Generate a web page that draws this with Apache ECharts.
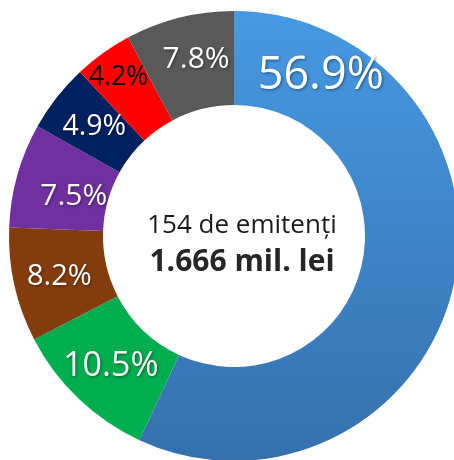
<!DOCTYPE html>
<html>
<head>
<meta charset="utf-8">
<script src="https://cdn.jsdelivr.net/npm/echarts@6/dist/echarts.min.js"></script>
<style>html,body{margin:0;padding:0;background:#fff;}#c{width:454px;height:460px;}</style>
</head>
<body>
<div id="c"></div>
<script>
var names = ['A', 'B', 'C', 'D', 'E', 'F', 'G'];
var values = [56.9, 10.5, 8.2, 7.5, 4.9, 4.2, 7.8];
var colors = ['#4597DF', '#00AE4F', '#843C0C', '#7030A0', '#002060', '#FF0000', '#595959'];
var labelSizes = [45, 34, 29, 30, 28.5, 26.5, 30];
var labelColors = ['#fff', '#fff', '#fff', '#fff', '#fff', '#000', '#fff'];
var labelOffsets = [[-90, -199], [2, 0], [2, 1], [14, 9], [3, 2], [-10, -11], [6, -1]];
var centerLine1 = '154 de emitenți';
var centerLine2 = '1.666 mil. lei';

var chart = echarts.init(document.getElementById('c'), null, {renderer: 'canvas'});
var data = values.map(function (v, i) {
  var color = colors[i];
  if (i === 0) {
    color = new echarts.graphic.LinearGradient(0, 0, 0, 1, [
      {offset: 0, color: '#4699E2'},
      {offset: 1, color: '#3570AD'}
    ]);
  }
  return {
    name: names[i],
    value: v,
    itemStyle: {color: color},
    label: {
      fontSize: labelSizes[i],
      color: labelColors[i],
      offset: labelOffsets[i],
      textShadowColor: labelColors[i] === '#000' ? 'rgba(0,0,0,0)' : 'rgba(0,0,0,0.45)',
      textShadowBlur: 3,
      textShadowOffsetX: 1,
      textShadowOffsetY: 1
    }
  };
});
chart.setOption({
  animation: false,
  series: [{
    type: 'pie',
    center: [234, 236],
    radius: [131, 225],
    startAngle: 90,
    clockwise: true,
    avoidLabelOverlap: false,
    itemStyle: {borderWidth: 0},
    label: {
      show: true,
      position: 'inside',
      fontFamily: 'Open Sans',
      formatter: function (p) { return p.value.toFixed(1) + '%'; }
    },
    labelLine: {show: false},
    emphasis: {disabled: true},
    data: data
  }],
  graphic: [
    {type: 'text', style: {x: 242, y: 226, text: centerLine1, fontFamily: 'Open Sans', fontSize: 26, fill: '#1a1a1a', align: 'center', verticalAlign: 'middle'}},
    {type: 'text', style: {x: 242, y: 262, text: centerLine2, fontFamily: 'Open Sans', fontWeight: 'bold', fontSize: 30, fill: '#262626', align: 'center', verticalAlign: 'middle'}}
  ]
});
</script>
</body>
</html>
